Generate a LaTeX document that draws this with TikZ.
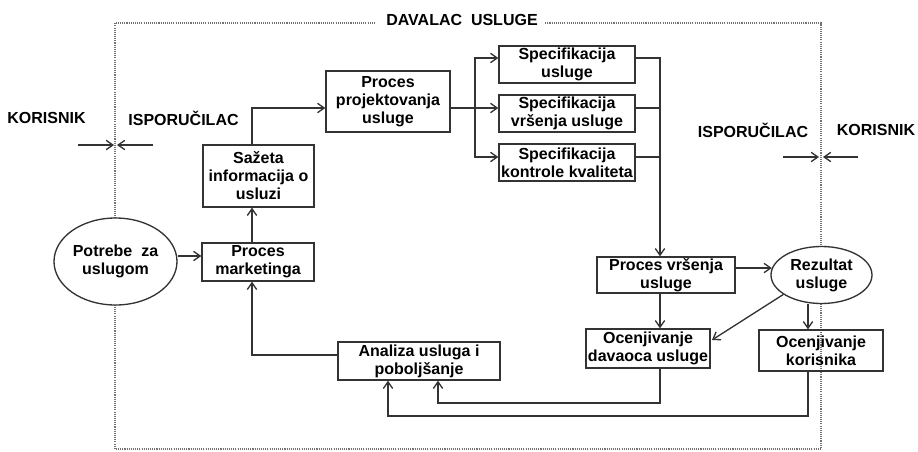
\documentclass[tikz,border=0pt]{standalone}
\usepackage{fontspec}
\setmainfont{Liberation Sans}
\usetikzlibrary{arrows.meta,shapes.geometric,calc}
\begin{document}
\begin{tikzpicture}[x=0.75pt,y=-0.75pt,
  font=\fontsize{12}{13.5}\selectfont\bfseries,
  box/.style={draw=black!80, line width=1pt, rectangle, inner sep=0pt, align=center, text=black},
  oval/.style={draw=black!80, line width=1pt, ellipse, inner sep=0pt, align=center, fill=white, text=black},
  lbl/.style={inner sep=0pt, text=black},
  arr/.style={draw=black!80, line width=1pt, -{Straight Barb[length=5pt,width=7pt]}},
  ln/.style={draw=black!80, line width=1pt},
  frame/.style={draw=black!55, line width=0.8pt, dash pattern=on 0.8pt off 0.8pt}
]
\useasboundingbox (0,0) rectangle (918,451);

% frame
\node[lbl] (dav) at (462,20) {DAVALAC\ \ USLUGE};
\coordinate (f1) at (375,23);
\coordinate (f2) at (115,23);
\coordinate (f3) at (115,449);
\coordinate (f4) at (821,449);
\coordinate (f5) at (821,23);
\coordinate (f6) at (545,23);
\draw[frame] (f1) -- (f2) -- (f3) -- (f4) -- (f5) -- (f6);

% side labels
\node[lbl] (kor1) at (46.5,118) {KORISNIK};
\node[lbl] (isp1) at (183.5,118) {ISPORUČILAC};
\node[lbl] (isp2) at (753,130) {ISPORUČILAC};
\node[lbl] (kor2) at (876,130) {KORISNIK};
\coordinate (a1s) at (78,145);
\coordinate (a1e) at (114,145);
\coordinate (a2s) at (153,145);
\coordinate (a2e) at (117,145);
\coordinate (a3s) at (783,157);
\coordinate (a3e) at (819,157);
\coordinate (a4s) at (858,157);
\coordinate (a4e) at (823,157);
\draw[arr] (a1s) -- (a1e);
\draw[arr] (a2s) -- (a2e);
\draw[arr] (a3s) -- (a3e);
\draw[arr] (a4s) -- (a4e);

% nodes
\node[oval, minimum width=92.25pt, minimum height=65.25pt] (pot) at (115.5,261.5) {Potrebe\ \ za\\uslugom};
\node[box, minimum width=84pt, minimum height=28.5pt] (mark) at (258,262) {Proces\\marketinga};
\node[box, minimum width=83.25pt, minimum height=46.5pt] (saz) at (258.5,176) {Sažeta\\informacija o\\usluzi};
\node[box, minimum width=93pt, minimum height=45.75pt] (proj) at (388,101.5) {Proces\\projektovanja\\usluge};
\node[box, minimum width=102pt, minimum height=27.75pt] (s1) at (567,64.5) {Specifikacija\\usluge};
\node[box, minimum width=102pt, minimum height=27.75pt] (s2) at (567,113.5) {Specifikacija\\vršenja usluge};
\node[box, minimum width=102pt, minimum height=27.75pt] (s3) at (567,162.5) {Specifikacija\\kontrole kvaliteta};
\node[box, minimum width=103.5pt, minimum height=27pt] (vrs) at (666,275) {Proces vršenja\\usluge};
\node[oval, minimum width=75.75pt, minimum height=42.75pt] (rez) at (821.5,275) {Rezultat\\usluge};
\node[box, minimum width=93pt, minimum height=29.25pt] (odav) at (648,348.5) {Ocenjivanje\\davaoca usluge};
\node[box, minimum width=93pt, minimum height=30.75pt] (okor) at (821,350.5) {Ocenjivanje\\korisnika};
\node[box, minimum width=121.5pt, minimum height=28.5pt] (anal) at (419,361) {Analiza usluga i\\poboljšanje};

% helper coordinates
\coordinate (cA) at (252,0);
\coordinate (cB) at (475,0);
\coordinate (cC) at (660,0);
\coordinate (cD) at (808,0);
\coordinate (cE) at (438,0);
\coordinate (cF) at (388,0);
\coordinate (y1) at (0,58);
\coordinate (yP) at (0,108);
\coordinate (y3) at (0,157);
\coordinate (yM) at (0,256);
\coordinate (yR) at (0,268);
\coordinate (yN) at (0,355);
\coordinate (yL1) at (0,403);
\coordinate (yL2) at (0,416);
\coordinate (dEnd) at (712,340);

% connectors
\draw[arr] (pot.east |- yM) -- (mark.west |- yM);
\draw[arr] (mark.north -| cA) -- (saz.south -| cA);
\draw[arr] (saz.north -| cA) |- (proj.west |- yP);
\draw[arr] (proj.east |- yP) -- (s2.west |- yP);
\draw[arr] (cB |- yP) |- (s1.west |- y1);
\draw[arr] (cB |- yP) |- (s3.west |- y3);
\draw[arr] (s1.east |- y1) -| (vrs.north -| cC);
\draw[ln] (s2.east |- yP) -- (cC |- yP);
\draw[ln] (s3.east |- y3) -- (cC |- y3);
\draw[arr] (vrs.east |- rez.172) -- (rez.172);
\draw[arr] (vrs.south -| cC) -- (odav.north -| cC);
\draw[arr] (rez.207) -- (dEnd);
\draw[arr] (rez.south -| cD) -- (okor.north -| cD);
\draw[arr] (odav.south -| cC) |- (cE |- yL1) -- (anal.south -| cE);
\draw[arr] (okor.south -| cD) |- (cF |- yL2) -- (anal.south -| cF);
\draw[arr] (anal.west |- yN) -| (mark.south -| cA);
\end{tikzpicture}
\end{document}
